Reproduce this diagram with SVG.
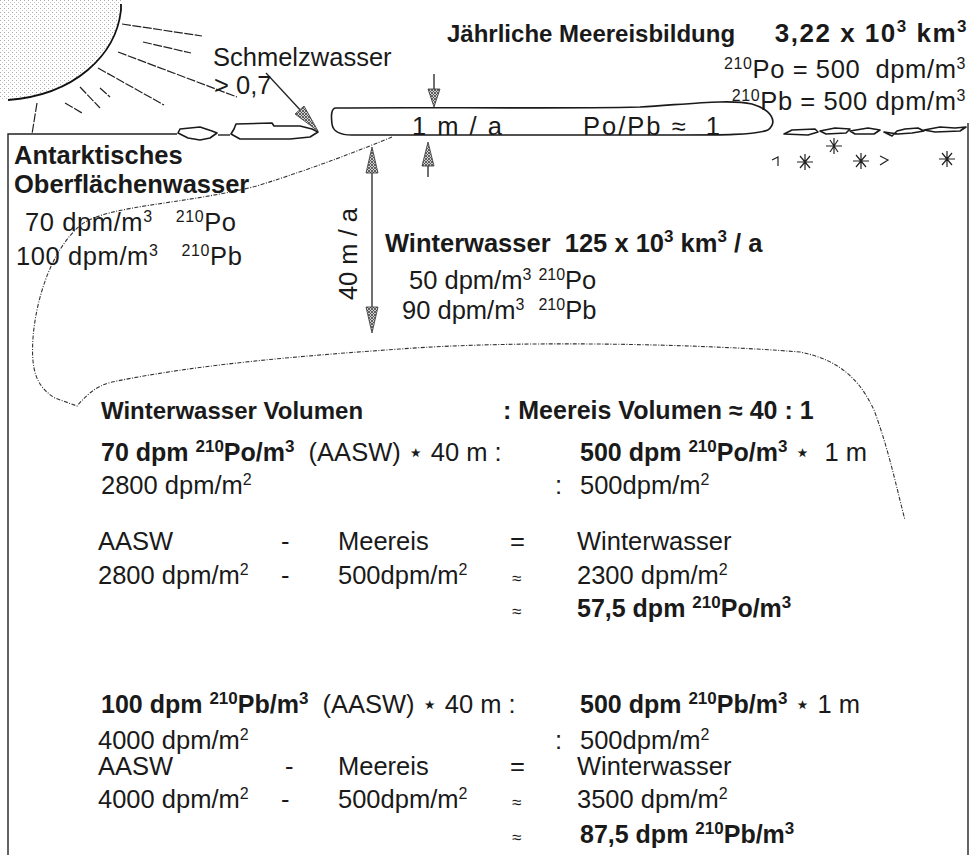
<svg xmlns="http://www.w3.org/2000/svg" width="973" height="855" viewBox="0 0 973 855">
  <style>
    text { font-family: "Liberation Sans", Arial, "DejaVu Sans", sans-serif; font-size: 25.5px; fill: #1a1a1a; white-space: pre; }
    .b { font-weight: bold; font-size: 25px; }
    .bl { font-weight: bold; font-size: 25.5px; }
    .sp { font-size: 16px; font-weight: normal; }
    .spb { font-size: 17px; }
    .ap { font-size: 17px; }
    .wide { letter-spacing: 2px; }
    .frame { fill: none; stroke: #222; stroke-width: 1.4; }
    .ray { fill: none; stroke: #222; stroke-width: 1.2; stroke-dasharray: 9 1.5; }
    .dash { fill: none; stroke: #333; stroke-width: 1.1; stroke-dasharray: 4 1.5 1 1.5; }
    .ice { fill: #fff; stroke: #1a1a1a; stroke-width: 1.6; stroke-linejoin: round; }
    .shaft { fill: none; stroke: #222; stroke-width: 1.3; }
    .head { fill: url(#hatch); stroke: #333; stroke-width: 0.8; }
    .flake { fill: none; stroke: #222; stroke-width: 1.2; }
  </style>
  <defs>
    <pattern id="stipple" width="4" height="4" patternUnits="userSpaceOnUse">
      <rect x="0" y="0" width="1" height="1" fill="#a8a8a8"/>
      <rect x="2" y="2" width="1" height="1" fill="#c4c4c4"/>
    </pattern>
    <pattern id="hatch" width="3" height="3" patternUnits="userSpaceOnUse">
      <rect width="3" height="3" fill="#d0d0d0"/>
      <path d="M0,0 L3,3 M3,0 L0,3" stroke="#444" stroke-width="0.8"/>
    </pattern>
  </defs>

  <!-- sun with rays -->
  <g id="sun">
    <path d="M0,0 H122 L121,10 C116,55 75,95 8,100 L0,100 Z" fill="url(#stipple)"/>
    <path d="M121,4 L121,10 C116,55 75,95 8,100" fill="none" stroke="#111" stroke-width="1.8"/>
    <path class="ray" d="M122,24 L202,36 M143,42 L191,53 M118,52 L237,97 M98,68 L164,105 M80,87 L100,108 M100,88 L110,97 M65,103 L82,113"/>
  </g>

  <!-- water body frame and surface line -->
  <g id="frame">
    <path class="frame" d="M8,855 V134 H177"/>
    <path class="frame" d="M218,135 H230"/>
    <path class="frame" d="M968,123 V855"/>
    <path class="ray" d="M37,103 L32,134"/>
  </g>

  <!-- sea ice -->
  <g id="ice">
    <path class="ice" d="M180,129 L200,127 L212,131 L217,133 L210,138 L200,140 L188,138 L178,133 Z"/>
    <path class="ice" d="M236,124 L272,123 L274,126 L300,126 L312,129 L318,132 L310,137 L290,139 L240,139 L231,134 L234,129 Z"/>
    <path class="ice" d="M336,108 C420,107 560,109 640,107 C690,104 730,99 752,104 C772,110 778,122 768,130 C755,135 720,135 680,135 L352,135 C340,135 333,132 332,124 C331,116 331,108 336,108 Z"/>
    <path class="ice" d="M784,134 L792,130 L815,129 L818,132 L808,135 Z"/>
    <path class="ice" d="M820,131 L835,128 L850,129 L846,133 L826,134 Z"/>
    <path class="ice" d="M850,131 L868,128 L880,130 L874,134 L855,134 Z"/>
    <path class="ice" d="M884,132 L892,136 L897,131 L905,129 L918,128 L924,131 L912,133 L898,134 Z"/>
    <path class="ice" d="M924,130 L940,127 L955,128 L966,127 L960,131 L935,132 Z"/>
  </g>

  <!-- snow flakes -->
  <g id="flakes" class="flake">
    <path d="M830,140 L838,152 M838,140 L830,152 M826,146 L842,146 M834,138 L834,154"/>
    <path d="M800,156 L810,168 M810,156 L800,168 M797,162 L813,162 M805,154 L805,170"/>
    <path d="M856,155 L866,167 M866,155 L856,167 M853,161 L869,161 M861,153 L861,169"/>
    <path d="M942,153 L952,165 M952,153 L942,165 M939,159 L955,159 M947,151 L947,167"/>
    <path d="M772,160 L778,157 L778,166"/>
    <path d="M880,156 L888,160 L880,165"/>
  </g>

  <!-- arrows -->
  <g id="connectors">
    <!-- melt water arrow -->
    <path class="shaft" d="M266,73 L303,113"/>
    <polygon class="head" points="318,131 304,106 295,114"/>
    <!-- 1 m / a ice thickness -->
    <path class="shaft" d="M434,74 V89"/>
    <polygon class="head" points="428,89 440,89 434,107"/>
    <path class="shaft" d="M428,166 V177"/>
    <polygon class="head" points="428,142 422,166 434,166"/>
    <!-- 40 m / a mixed layer -->
    <path class="shaft" d="M372,172 V307"/>
    <polygon class="head" points="372,147 366,173 378,173"/>
    <polygon class="head" points="366,307 378,307 372,333"/>
    <!-- surface water boundary -->
    <path class="dash" d="M392,137 C360,150 320,166 257,186 C180,205 110,205 82,224 C52,248 36,298 33,338 C31,368 35,386 55,398 L77,406 C86,396 95,386 112,382 C200,364 300,356 400,349 C520,340 700,344 800,352 C840,360 860,380 874,410 C889,450 897,490 905,520"/>
  </g>

  <!-- annual sea ice formation -->
  <g id="seaice-label">
    <text class="b" x="447" y="42" style="font-size:24px">Jährliche Meereisbildung</text>
    <text class="b" x="968" y="42" text-anchor="end" style="font-size:26px;letter-spacing:1.5px">3,22 x 10<tspan class="spb" dy="-10">3</tspan><tspan dy="10"> km</tspan><tspan class="spb" dy="-10">3</tspan></text>
    <text x="966" y="78" text-anchor="end" style="letter-spacing:0.6px"><tspan class="sp" dy="-9">210</tspan><tspan dy="9">Po = 500  dpm/m</tspan><tspan class="sp" dy="-9">3</tspan></text>
    <text x="966" y="110" text-anchor="end" style="letter-spacing:0.6px"><tspan class="sp" dy="-9">210</tspan><tspan dy="9">Pb = 500 dpm/m</tspan><tspan class="sp" dy="-9">3</tspan></text>
    <text class="wide" x="412" y="135">1 m / a</text>
    <text class="wide" x="583" y="135">Po/Pb ≈  1</text>
  </g>

  <g id="meltwater">
    <text x="213" y="66">Schmelzwasser</text>
    <text x="214" y="94">&gt; 0,7</text>
  </g>

  <g id="aasw">
    <text class="bl" x="14" y="164">Antarktisches</text>
    <text class="bl" x="14" y="193">Oberflächenwasser</text>
    <text x="25" y="231" style="letter-spacing:0.6px">70 dpm/m<tspan class="sp" dy="-9">3</tspan><tspan dy="9">   </tspan><tspan class="sp" dy="-9">210</tspan><tspan dy="9">Po</tspan></text>
    <text x="16" y="265" style="letter-spacing:0.6px">100 dpm/m<tspan class="sp" dy="-9">3</tspan><tspan dy="9">   </tspan><tspan class="sp" dy="-9">210</tspan><tspan dy="9">Pb</tspan></text>
  </g>

  <g id="winterwater">
    <text x="357" y="254" transform="rotate(-90 357 254)" text-anchor="middle">40 m / a</text>
    <text class="bl" x="385" y="252">Winterwasser  125 x 10<tspan class="spb" dy="-10">3</tspan><tspan dy="10"> km</tspan><tspan class="spb" dy="-10">3</tspan><tspan dy="10"> / a</tspan></text>
    <text x="409" y="289">50 dpm/m<tspan class="sp" dy="-9">3</tspan><tspan dy="9"> </tspan><tspan class="sp" dy="-9">210</tspan><tspan dy="9">Po</tspan></text>
    <text x="402" y="319">90 dpm/m<tspan class="sp" dy="-9">3</tspan><tspan dy="9">  </tspan><tspan class="sp" dy="-9">210</tspan><tspan dy="9">Pb</tspan></text>
  </g>

  <!-- balance calculation -->
  <g id="balance">
    <text class="b" x="101" y="419" style="font-size:24px">Winterwasser Volumen</text>
    <text class="b" x="503" y="419">: Meereis Volumen ≈ 40 : 1</text>

    <text x="101" y="461"><tspan class="b">70 dpm </tspan><tspan class="b spb" dy="-9">210</tspan><tspan class="b" dy="9">Po/m</tspan><tspan class="b spb" dy="-9">3</tspan><tspan dy="9">  (AASW) ⋆ 40 m :</tspan></text>
    <text x="580" y="461"><tspan class="b">500 dpm </tspan><tspan class="b spb" dy="-9">210</tspan><tspan class="b" dy="9">Po/m</tspan><tspan class="b spb" dy="-9">3</tspan><tspan dy="9"> ⋆  1 m</tspan></text>
    <text x="101" y="494">2800 dpm/m<tspan class="sp" dy="-9">2</tspan></text>
    <text x="555" y="494">:</text>
    <text x="580" y="494">500dpm/m<tspan class="sp" dy="-9">2</tspan></text>

    <text x="98" y="550">AASW</text>
    <text x="281" y="550">-</text>
    <text x="338" y="550">Meereis</text>
    <text x="510" y="550">=</text>
    <text x="577" y="550">Winterwasser</text>

    <text x="98" y="584">2800 dpm/m<tspan class="sp" dy="-9">2</tspan></text>
    <text x="281" y="584">-</text>
    <text x="338" y="584">500dpm/m<tspan class="sp" dy="-9">2</tspan></text>
    <text class="ap" x="512" y="584">≈</text>
    <text x="577" y="584">2300 dpm/m<tspan class="sp" dy="-9">2</tspan></text>
    <text class="ap" x="512" y="617">≈</text>
    <text x="577" y="617"><tspan class="b">57,5 dpm </tspan><tspan class="b spb" dy="-9">210</tspan><tspan class="b" dy="9">Po/m</tspan><tspan class="b spb" dy="-9">3</tspan></text>

    <text x="101" y="713"><tspan class="b">100 dpm </tspan><tspan class="b spb" dy="-9">210</tspan><tspan class="b" dy="9">Pb/m</tspan><tspan class="b spb" dy="-9">3</tspan><tspan dy="9">  (AASW) ⋆ 40 m :</tspan></text>
    <text x="580" y="713"><tspan class="b">500 dpm </tspan><tspan class="b spb" dy="-9">210</tspan><tspan class="b" dy="9">Pb/m</tspan><tspan class="b spb" dy="-9">3</tspan><tspan dy="9"> ⋆ 1 m</tspan></text>
    <text x="98" y="749">4000 dpm/m<tspan class="sp" dy="-9">2</tspan></text>
    <text x="555" y="749">:</text>
    <text x="580" y="749">500dpm/m<tspan class="sp" dy="-9">2</tspan></text>

    <text x="98" y="775">AASW</text>
    <text x="285" y="775">-</text>
    <text x="338" y="775">Meereis</text>
    <text x="510" y="775">=</text>
    <text x="577" y="775">Winterwasser</text>

    <text x="98" y="808">4000 dpm/m<tspan class="sp" dy="-9">2</tspan></text>
    <text x="281" y="808">-</text>
    <text x="338" y="808">500dpm/m<tspan class="sp" dy="-9">2</tspan></text>
    <text class="ap" x="512" y="808">≈</text>
    <text x="577" y="808">3500 dpm/m<tspan class="sp" dy="-9">2</tspan></text>
    <text class="ap" x="512" y="843">≈</text>
    <text x="580" y="843"><tspan class="b">87,5 dpm </tspan><tspan class="b spb" dy="-9">210</tspan><tspan class="b" dy="9">Pb/m</tspan><tspan class="b spb" dy="-9">3</tspan></text>
  </g>
</svg>
